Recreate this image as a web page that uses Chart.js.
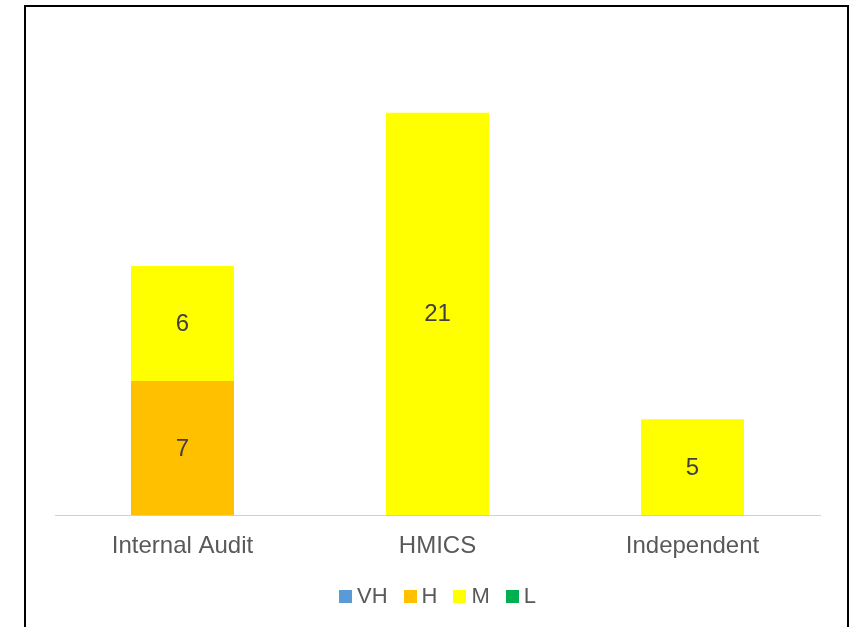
<!DOCTYPE html>
<html>
<head>
<meta charset="utf-8">
<script src="https://cdn.jsdelivr.net/npm/chart.js@4"></script>
<style>
  html, body { margin: 0; padding: 0; background: #fff; }
  #wrap { position: relative; width: 852px; height: 627px; overflow: hidden; }
  #frame { position: absolute; left: 24px; top: 5px; width: 821px; height: 640px; border: 2px solid #000; pointer-events: none; }
  canvas { position: absolute; left: 0; top: 0; }
  #legend { position: absolute; left: 55px; width: 765px; top: 583px; display: flex; justify-content: center;
            font-family: "Liberation Sans", Arial, sans-serif; font-size: 22px; color: #595959; line-height: 26px; }
  #legend .item { display: flex; align-items: center; margin: 0 8px; }
  #legend .box { width: 13px; height: 13px; margin-right: 5px; }
</style>
</head>
<body>
<div id="wrap">
  <canvas id="c" width="852" height="627"></canvas>
  <div id="legend"></div>
  <div id="frame"></div>
</div>
<script>
const categories = ['Internal Audit', 'HMICS', 'Independent'];
const seriesNames = ['VH', 'H', 'M', 'L'];
const vhValues = [0, 0, 0];
const hValues = [7, 0, 0];
const mValues = [6, 21, 5];
const lValues = [0, 0, 0];
const seriesColors = ['#5b9bd5', '#ffc000', '#ffff00', '#00b050'];

const FONT = '"Liberation Sans", Arial, sans-serif';

// Writes each segment's value in the middle of its bar
const valueLabels = {
  id: 'valueLabels',
  afterDatasetsDraw(chart) {
    const ctx = chart.ctx;
    ctx.save();
    ctx.font = '24px ' + FONT;
    ctx.fillStyle = '#404040';
    ctx.textAlign = 'center';
    ctx.textBaseline = 'middle';
    chart.data.datasets.forEach((ds, i) => {
      const meta = chart.getDatasetMeta(i);
      meta.data.forEach((bar, j) => {
        const v = ds.data[j];
        if (!v) return;
        const mid = (bar.y + bar.base) / 2;
        ctx.fillText(String(v), bar.x, mid + 1);
      });
    });
    ctx.restore();
  }
};

const allSeries = [vhValues, hValues, mValues, lValues];

// Legend row under the axis
const legendEl = document.getElementById('legend');
seriesNames.forEach((name, i) => {
  const item = document.createElement('div');
  item.className = 'item';
  const box = document.createElement('span');
  box.className = 'box';
  box.style.background = seriesColors[i];
  const txt = document.createElement('span');
  txt.textContent = name;
  item.appendChild(box);
  item.appendChild(txt);
  legendEl.appendChild(item);
});

new Chart(document.getElementById('c'), {
  type: 'bar',
  data: {
    labels: categories,
    datasets: seriesNames.map((name, i) => ({
      label: name,
      data: allSeries[i],
      backgroundColor: seriesColors[i],
      borderWidth: 0,
      categoryPercentage: 1.0,
      barPercentage: 0.404
    }))
  },
  options: {
    responsive: false,
    animation: false,
    layout: { padding: { left: 55, right: 32, top: 36, bottom: 0 } },
    scales: {
      x: {
        stacked: true,
        grid: { display: false, drawTicks: false },
        border: { display: true, color: '#d0d0d0', width: 1 },
        ticks: { color: '#595959', font: { family: FONT, size: 24 }, padding: 17 },
        afterFit: (scale) => { scale.height = 112; }
      },
      y: {
        stacked: true,
        display: false,
        min: 0,
        max: 25
      }
    },
    plugins: {
      legend: { display: false },
      tooltip: { enabled: false }
    }
  },
  plugins: [valueLabels]
});
</script>
</body>
</html>
